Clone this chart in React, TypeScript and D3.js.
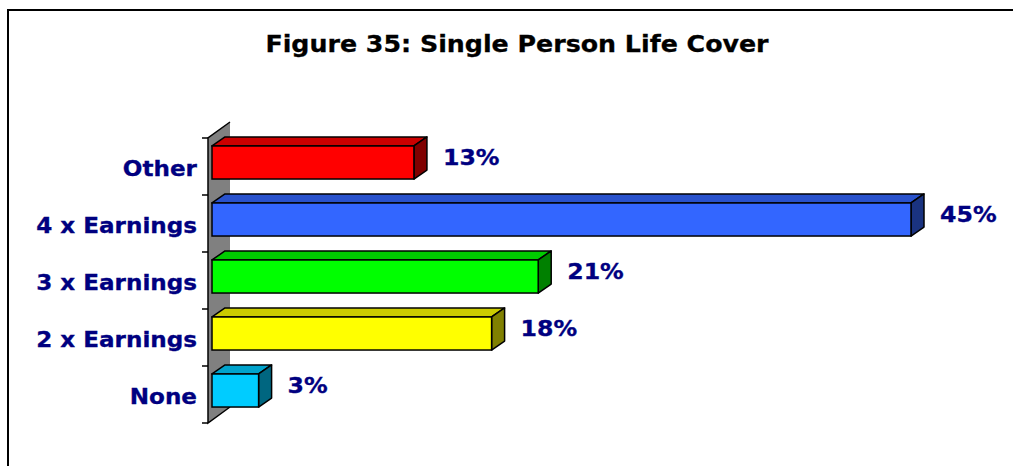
import React from "react";
import * as d3 from "d3";

const categories = ["Other", "4 x Earnings", "3 x Earnings", "2 x Earnings", "None"];
const values = [13, 45, 21, 18, 3];
const colors = ["#FF0000", "#3366FF", "#00FF00", "#FFFF00", "#00CCFF"];
const title = "Figure 35: Single Person Life Cover";

const W = 1013;
const H = 466;
const FONT = "'DejaVu Sans', Verdana, sans-serif";
const NAVY = "#000080";
const SX = 1.1; // horizontal stretch of the text

function shade(c: string, k: number) {
  const r = d3.rgb(c);
  return d3.rgb(r.r * k, r.g * k, r.b * k).formatHex();
}

export default function App() {
  const wallX = 208;
  const wallD = { dx: 22, dy: -16 };
  const barOff = { dx: 4, dy: -4 };
  const barD = { dx: 13, dy: -9 };

  const y = d3
    .scaleBand<string>()
    .domain(categories)
    .range([138, 423])
    .paddingInner(0.42)
    .paddingOuter(0.21);
  const x = d3
    .scaleLinear()
    .domain([0, d3.max(values) as number])
    .range([wallX + barOff.dx, 911]);

  const y0 = 138;
  const y1 = 423;
  const step = y.step();
  const ticks = d3.range(categories.length + 1).map((i) => y0 + i * step);

  const txt = (
    s: string,
    tx: number,
    ty: number,
    size: number,
    anchor: string,
    fill: string,
    key?: string
  ) => (
    <text
      key={key}
      transform={`translate(${tx},${ty}) scale(${SX},1)`}
      textAnchor={anchor}
      fontFamily={FONT}
      fontWeight="bold"
      fontSize={size}
      fill={fill}
      stroke={fill}
      strokeWidth={0.3}
    >
      {s}
    </text>
  );

  return (
    <svg
      width={W}
      height={H}
      style={{ position: "absolute", left: 0, top: 0, background: "#fff" }}
    >
      <rect x={8} y={10} width={W + 20} height={H + 20} fill="#fff" stroke="#000" strokeWidth={2} />
      {txt(title, 517, 52, 23, "middle", "#000")}

      <polygon
        points={`${wallX},${y0} ${wallX + wallD.dx},${y0 + wallD.dy} ${wallX + wallD.dx},${y1 + wallD.dy} ${wallX},${y1}`}
        fill="#808080"
      />
      <path
        d={`M${wallX + wallD.dx},${y0 + wallD.dy} L${wallX},${y0} L${wallX},${y1} L${wallX + wallD.dx},${y1 + wallD.dy}`}
        fill="none"
        stroke="#000"
        strokeWidth={1.5}
      />
      {ticks.map((t, i) => (
        <line key={i} x1={wallX - 6} x2={wallX} y1={t} y2={t} stroke="#000" strokeWidth={1.5} />
      ))}

      {categories.map((c, i) => {
        const top = (y(c) as number) + barOff.dy;
        const h = y.bandwidth();
        const xl = x(0);
        const xr = x(values[i]);
        const col = colors[i];
        const topFace = `${xl},${top} ${xr},${top} ${xr + barD.dx},${top + barD.dy} ${xl + barD.dx},${top + barD.dy}`;
        const side = `${xr},${top} ${xr + barD.dx},${top + barD.dy} ${xr + barD.dx},${top + h + barD.dy} ${xr},${top + h}`;
        return (
          <g key={c}>
            <polygon points={topFace} fill={shade(col, 0.8)} stroke="#000" strokeWidth={1.5} strokeLinejoin="round" />
            <polygon points={side} fill={shade(col, 0.5)} stroke="#000" strokeWidth={1.5} strokeLinejoin="round" />
            <rect x={xl} y={top} width={xr - xl} height={h} fill={col} stroke="#000" strokeWidth={1.5} />
            {txt(`${values[i]}%`, xr + 29, top + 19, 21.5, "start", NAVY)}
          </g>
        );
      })}

      {categories.map((c) => {
        const cy = (y(c) as number) + y.bandwidth() / 2;
        return txt(c, 197, cy + 9.5, 21, "end", NAVY, "l" + c);
      })}
    </svg>
  );
}
